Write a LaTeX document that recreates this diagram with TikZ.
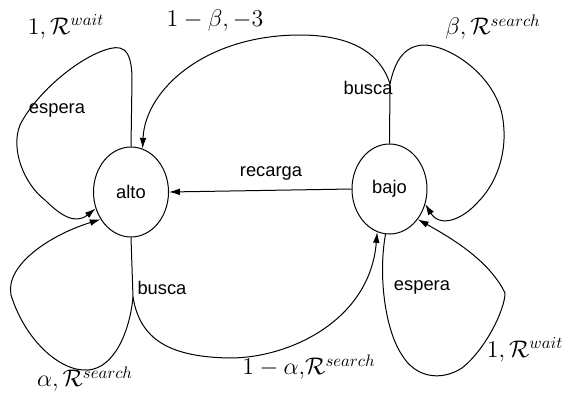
\documentclass[tikz,border=0pt]{standalone}
\usepackage{fontspec}
\setsansfont{Liberation Sans}
\usepackage{amsmath}
\usepackage{amssymb}
\usetikzlibrary{shapes.geometric,arrows.meta}

\begin{document}
\begin{tikzpicture}[x=0.6pt,y=-0.6pt,
    estado/.style={draw, ellipse, minimum width=45pt, minimum height=54pt, inner sep=0pt, font=\sffamily\fontsize{11}{13}\selectfont},
    accion/.style={inner sep=0pt, font=\sffamily\fontsize{11}{13}\selectfont},
    prob/.style={inner sep=0pt, font=\fontsize{13.8}{16}\selectfont},
    flecha/.style={-{Latex[length=6.5pt,width=4pt]}},
    every path/.style={line width=0.6pt}]
    \useasboundingbox (0,0) rectangle (565,399);
    \node[estado] (alto) at (131,192) {alto};
    \node[estado] (bajo) at (389.5,189) {bajo};
    \coordinate (ja) at (133,297);
    \coordinate (jb) at (390,84);
    \draw[flecha] (bajo.west) -- (alto.east);
    \node[accion] (recarga) at (271,173) {recarga};
    \draw[flecha] (alto.north) -- (132,80) .. controls (132,45) and (120,45) .. (105,50) .. controls (75,60) and (35,95) .. (20,125) .. controls (10,150) and (25,185) .. (45,200) .. controls (60,215) and (75,225) .. (alto.205);
    \draw (alto.south) -- (ja);
    \draw[flecha] (ja) .. controls (130,330) and (115,368) .. (88,370) .. controls (60,372) and (25,340) .. (11,295) .. controls (5,265) and (50,235) .. (alto.222);
    \draw[flecha] (ja) .. controls (140,340) and (170,357) .. (230,358) .. controls (290,358) and (370,320) .. (bajo.254);
    \draw (bajo.north) -- (jb);
    \draw[flecha] (jb) .. controls (380,52) and (350,35) .. (300,35) .. controls (205,35) and (145,90) .. (alto.75);
    \draw[flecha] (jb) .. controls (395,60) and (405,45) .. (425,45) .. controls (455,47) and (498,80) .. (503,120) .. controls (508,155) and (495,185) .. (478,202) .. controls (462,220) and (440,228) .. (bajo.337);
    \draw[flecha] (bajo.265) .. controls (378,275) and (385,330) .. (402,355) .. controls (415,377) and (440,382) .. (462,368) .. controls (485,350) and (505,310) .. (505,293) .. controls (490,262) and (455,240) .. (bajo.313);
    \node[accion, anchor=west] (buscaA) at (137,288) {busca};
    \node[accion, anchor=east] (buscaB) at (393,88) {busca};
    \node[accion] (esperaA) at (57,110) {espera};
    \node[accion] (esperaB) at (422,287) {espera};
    \node[prob] (waitA) at (66,27) {$1,\mathcal{R}^{wait}$};
    \node[prob] (beta) at (215,20) {$1-\beta,-3$};
    \node[prob] (searchB) at (493,27) {$\beta,\mathcal{R}^{search}$};
    \node[prob] (searchA) at (85,379) {$\alpha,\mathcal{R}^{search}$};
    \node[prob] (searchAB) at (309,367) {$1-\alpha{,}\mathcal{R}^{search}$};
    \node[prob] (waitB) at (525,350) {$1,\mathcal{R}^{wait}$};
\end{tikzpicture}
\end{document}
